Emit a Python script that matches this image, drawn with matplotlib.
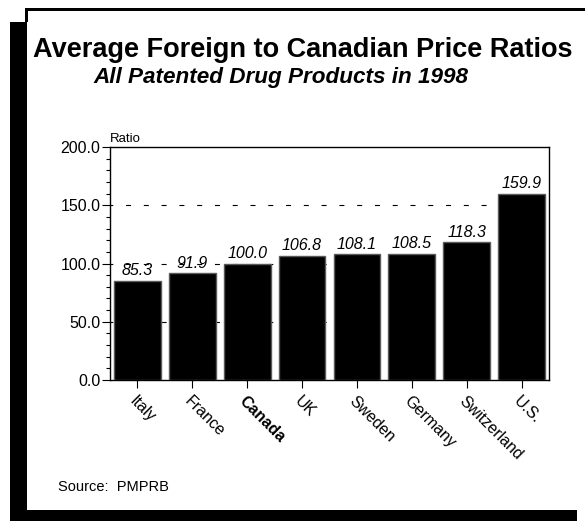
import matplotlib
matplotlib.use("Agg")
import matplotlib.pyplot as plt
from matplotlib.patches import Rectangle

plt.rcParams['font.family'] = ['Liberation Sans', 'DejaVu Sans']

countries = ["Italy", "France", "Canada", "UK", "Sweden", "Germany", "Switzerland", "U.S."]
ratios = [85.3, 91.9, 100.0, 106.8, 108.1, 108.5, 118.3, 159.9]
value_labels = ["85.3", "91.9", "100.0", "106.8", "108.1", "108.5", "118.3", "159.9"]
yticks = [0, 50, 100, 150, 200]
ytick_labels = ["0.0", "50.0", "100.0", "150.0", "200.0"]

W, H = 585, 521
fig = plt.figure(figsize=(W / 100, H / 100), dpi=100)

def fx(x):
    return x / W

def fy(y):
    return 1 - y / H

def rect(x0, y0, x1, y1):
    fig.patches.append(Rectangle((fx(x0), fy(y1)), fx(x1) - fx(x0), fy(y0) - fy(y1),
                                 transform=fig.transFigure, facecolor='black',
                                 edgecolor='none', zorder=0))

# frame with shadow
rect(25, 8, 585, 11)
rect(25, 8, 28, 22)
rect(10, 22, 27, 521)
rect(10, 510, 577, 521)

ax = fig.add_axes([fx(110), fy(380), fx(549) - fx(110), fy(147) - fy(380)])
x = list(range(len(countries)))
ax.bar(x, ratios, width=0.85, color='black', edgecolor='#5a5a5a', linewidth=1.0, zorder=3)
ax.set_xlim(-0.5, len(countries) - 0.5)
ax.set_ylim(0, 200)

for yv in [50, 100, 150]:
    ax.axhline(yv, color='black', linewidth=0.8, linestyle=(2, (4.5, 11.5)), zorder=1)

for xi, v, lab in zip(x, ratios, value_labels):
    ax.text(xi, v + 2, lab, ha='center', va='bottom', fontsize=11.5, style='italic', zorder=4)

ax.set_yticks(yticks)
ax.set_yticklabels(ytick_labels, fontsize=11.5)
ax.set_yticks(range(0, 201, 10), minor=True)
ax.tick_params(axis='y', which='major', length=6, width=0.8, direction='out', pad=1)
ax.tick_params(axis='y', which='minor', length=3, width=0.8, direction='out')
ax.set_xticks(x)
ax.set_xticklabels(countries, rotation=-45, ha='left', va='top', rotation_mode='anchor', fontsize=11.5)
ax.tick_params(axis='x', length=6, width=0.8, direction='out', pad=4)
for lbl in ax.get_xticklabels():
    if lbl.get_text() == "Canada":
        lbl.set_fontweight('bold')
for s in ax.spines.values():
    s.set_linewidth(1.0)

ax.text(0.0, 1.01, "Ratio", transform=ax.transAxes, ha='left', va='bottom', fontsize=9.5)

fig.text(fx(303), fy(57), "Average Foreign to Canadian Price Ratios", ha='center', va='baseline',
         fontsize=19.5, fontweight='bold')
fig.text(fx(281), fy(83.5), "All Patented Drug Products in 1998", ha='center', va='baseline',
         fontsize=16.2, fontweight='bold', style='italic')
fig.text(fx(58), fy(487), "Source:  PMPRB", ha='left', va='center', fontsize=10.5)

fig.savefig("out.png", dpi=100)
